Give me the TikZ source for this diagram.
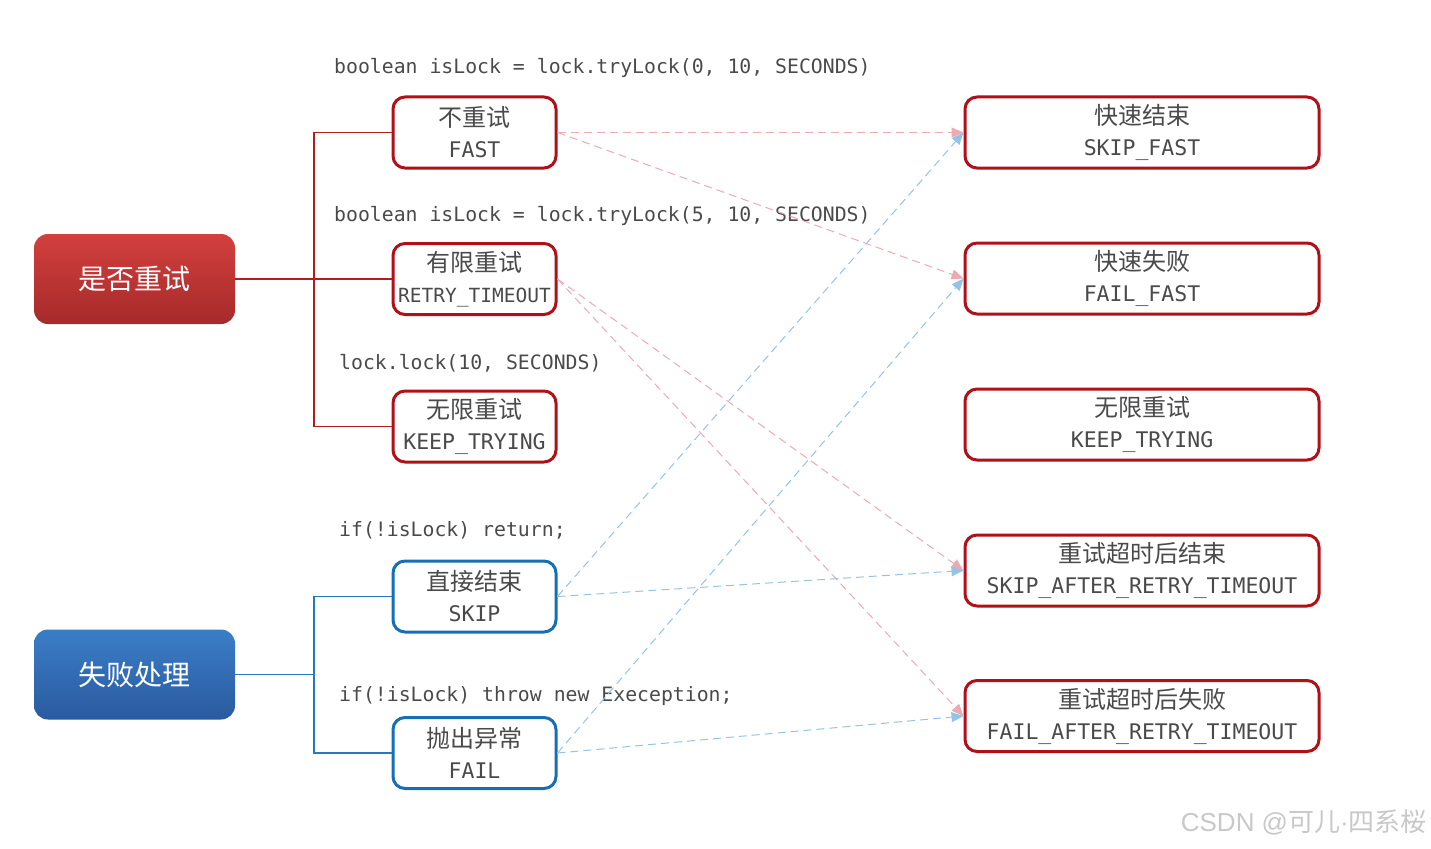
\documentclass[tikz,border=0pt]{standalone}
\usepackage{fontspec}
\setmonofont{DejaVu Sans Mono}
\newfontfamily\zh{Noto Sans CJK SC}
\newfontfamily\wmfont{Liberation Sans}
\usetikzlibrary{arrows.meta}
\definecolor{boxred}{RGB}{176,16,24}
\definecolor{boxblue}{RGB}{22,110,180}
\definecolor{linered}{RGB}{176,30,30}
\definecolor{lineblue}{RGB}{40,120,190}
\definecolor{arrpink}{RGB}{236,170,178}
\definecolor{arrblue}{RGB}{150,195,228}
\definecolor{txt}{RGB}{74,74,74}
\definecolor{lrtop}{RGB}{210,64,62}
\definecolor{lrbot}{RGB}{166,42,42}
\definecolor{lbtop}{RGB}{58,126,200}
\definecolor{lbbot}{RGB}{42,90,158}
\definecolor{wm}{RGB}{200,200,200}
\begin{document}
\begin{tikzpicture}[x=1pt,y=-1pt,
  midbox/.style={draw=#1,line width=3pt,rounded corners=12pt,minimum width=163pt,minimum height=71pt,inner sep=0pt,align=center,text=txt,fill=white,font=\fontsize{24}{31}\selectfont},
  rightbox/.style={draw=boxred,line width=3pt,rounded corners=12pt,minimum width=354pt,minimum height=71pt,inner sep=0pt,align=center,text=txt,fill=white,font=\fontsize{24}{31}\selectfont},
  leftbox/.style={rounded corners=14pt,minimum width=201pt,minimum height=90pt,inner sep=0pt,text=white,font=\zh\fontsize{28}{34}\selectfont},
  code/.style={anchor=west,text=txt,font=\ttfamily\fontsize{19.8}{22}\selectfont,inner sep=0pt},
  bracketr/.style={draw=linered,line width=1.2pt},
  bracketb/.style={draw=lineblue,line width=1.2pt},
  parr/.style={draw=arrpink,line width=1pt,dash pattern=on 8pt off 5pt,-{Triangle[length=12pt,width=10pt,fill=arrpink]}},
  barr/.style={draw=arrblue,line width=1pt,dash pattern=on 8pt off 5pt,-{Triangle[length=12pt,width=10pt,fill=arrblue]}}
]
\useasboundingbox (0,0) rectangle (1431,848);
\newcommand{\zhline}[1]{{\zh #1}}
\newcommand{\enline}[1]{{\ttfamily\fontsize{21.5}{31}\selectfont #1}}

% left boxes
\node[leftbox,top color=lrtop,bottom color=lrbot] (shifou) at (134.5,279) {是否重试};
\node[leftbox,top color=lbtop,bottom color=lbbot] (shibai) at (134.5,674.5) {失败处理};

% middle boxes
\node[midbox=boxred] (fast) at (474.5,132.5) {\zhline{不重试}\\\enline{FAST}};
\node[midbox=boxred] (retry) at (474.5,279) {\zhline{有限重试}\\{\ttfamily\fontsize{19.5}{31}\selectfont RETRY\_TIMEOUT}};
\node[midbox=boxred] (keep) at (474.5,426.5) {\zhline{无限重试}\\\enline{KEEP\_TRYING}};
\node[midbox=boxblue] (skip) at (474.5,596.5) {\zhline{直接结束}\\\enline{SKIP}};
\node[midbox=boxblue] (fail) at (474.5,753) {\zhline{抛出异常}\\\enline{FAIL}};

% right boxes
\node[rightbox] (skipfast) at (1142,132.5) {\zhline{快速结束}\\\enline{SKIP\_FAST}};
\node[rightbox] (failfast) at (1142,278.5) {\zhline{快速失败}\\\enline{FAIL\_FAST}};
\node[rightbox] (rkeep) at (1142,424.5) {\zhline{无限重试}\\\enline{KEEP\_TRYING}};
\node[rightbox] (skipafter) at (1142,570.5) {\zhline{重试超时后结束}\\\enline{SKIP\_AFTER\_RETRY\_TIMEOUT}};
\node[rightbox] (failafter) at (1142,716) {\zhline{重试超时后失败}\\\enline{FAIL\_AFTER\_RETRY\_TIMEOUT}};

% code labels
\node[code] (c1) at (334,67.5) {boolean isLock = lock.tryLock(0, 10, SECONDS)};
\node[code] (c2) at (334,215.5) {boolean isLock = lock.tryLock(5, 10, SECONDS)};
\node[code] (c3) at (339,363.5) {lock.lock(10, SECONDS)};
\node[code] (c4) at (339,530.5) {if(!isLock) return;};
\node[code] (c5) at (339,696.5) {if(!isLock) throw new Exeception;};

% brackets
\coordinate (rj) at (314,279);
\coordinate (bj) at (314,674.5);
\draw[bracketr] (shifou.east) -- (rj);
\draw[bracketr] (fast.west) -- (fast.west -| rj) -- (keep.west -| rj) -- (keep.west);
\draw[bracketr] (rj) -- (retry.west);
\draw[bracketb] (shibai.east) -- (bj);
\draw[bracketb] (skip.west) -- (skip.west -| bj) -- (fail.west -| bj) -- (fail.west);

% arrows
\draw[parr] (fast.east) -- (skipfast.west);
\draw[parr] (fast.east) -- (failfast.west);
\draw[parr] (retry.east) -- (skipafter.west);
\draw[parr] (retry.east) -- (failafter.west);
\draw[barr] (skip.east) -- (skipfast.west);
\draw[barr] (skip.east) -- (skipafter.west);
\draw[barr] (fail.east) -- (failfast.west);
\draw[barr] (fail.east) -- (failafter.west);

% watermark
\node[anchor=east,text=wm,font=\fontsize{26}{28}\selectfont,inner sep=0pt] (wmark) at (1427,822) {\wmfont CSDN @\zh 可儿{\wmfont\char"00B7}四系桜};
\end{tikzpicture}
\end{document}
